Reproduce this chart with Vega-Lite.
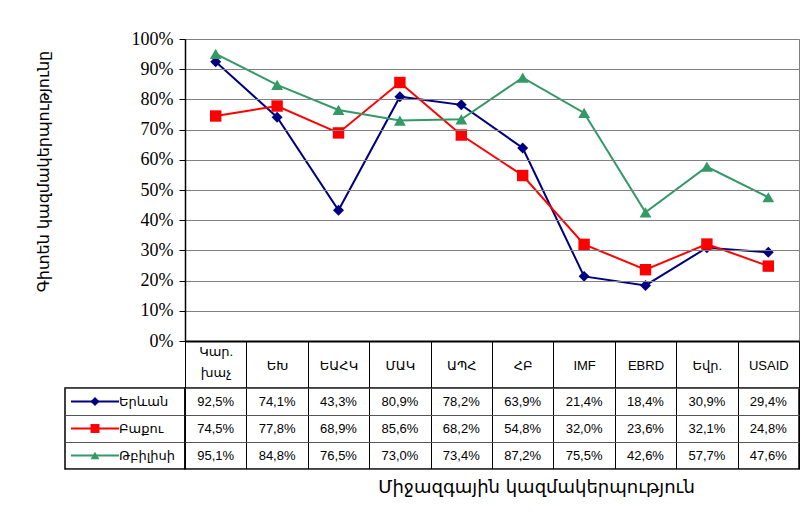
{
  "$schema": "https://vega.github.io/schema/vega-lite/v6.json",
  "background": "white",
  "padding": {"left": 34, "top": 29, "right": 6, "bottom": 10},
  "columns": 2,
  "spacing": {"row": 47, "column": 0},
  "bounds": "flush",
  "datasets": {
    "d": [
      {"cat": "Կար. խաչ", "series": "Երևան", "value": 0.925},
      {"cat": "ԵԽ", "series": "Երևան", "value": 0.741},
      {"cat": "ԵԱՀԿ", "series": "Երևան", "value": 0.433},
      {"cat": "ՄԱԿ", "series": "Երևան", "value": 0.809},
      {"cat": "ԱՊՀ", "series": "Երևան", "value": 0.782},
      {"cat": "ՀԲ", "series": "Երևան", "value": 0.639},
      {"cat": "IMF", "series": "Երևան", "value": 0.214},
      {"cat": "EBRD", "series": "Երևան", "value": 0.184},
      {"cat": "Եվր.", "series": "Երևան", "value": 0.309},
      {"cat": "USAID", "series": "Երևան", "value": 0.294},
      {"cat": "Կար. խաչ", "series": "Բաքու", "value": 0.745},
      {"cat": "ԵԽ", "series": "Բաքու", "value": 0.778},
      {"cat": "ԵԱՀԿ", "series": "Բաքու", "value": 0.689},
      {"cat": "ՄԱԿ", "series": "Բաքու", "value": 0.856},
      {"cat": "ԱՊՀ", "series": "Բաքու", "value": 0.682},
      {"cat": "ՀԲ", "series": "Բաքու", "value": 0.548},
      {"cat": "IMF", "series": "Բաքու", "value": 0.32},
      {"cat": "EBRD", "series": "Բաքու", "value": 0.236},
      {"cat": "Եվր.", "series": "Բաքու", "value": 0.321},
      {"cat": "USAID", "series": "Բաքու", "value": 0.248},
      {"cat": "Կար. խաչ", "series": "Թբիլիսի", "value": 0.951},
      {"cat": "ԵԽ", "series": "Թբիլիսի", "value": 0.848},
      {"cat": "ԵԱՀԿ", "series": "Թբիլիսի", "value": 0.765},
      {"cat": "ՄԱԿ", "series": "Թբիլիսի", "value": 0.73},
      {"cat": "ԱՊՀ", "series": "Թբիլիսի", "value": 0.734},
      {"cat": "ՀԲ", "series": "Թբիլիսի", "value": 0.872},
      {"cat": "IMF", "series": "Թբիլիսի", "value": 0.755},
      {"cat": "EBRD", "series": "Թբիլիսի", "value": 0.426},
      {"cat": "Եվր.", "series": "Թբիլիսի", "value": 0.577},
      {"cat": "USAID", "series": "Թբիլիսի", "value": 0.476}
    ]
  },
  "concat": [
    {
      "width": 120,
      "height": 302,
      "data": {"values": []},
      "mark": "point",
      "encoding": {},
      "view": {"stroke": null}
    },
    {
      "width": 614,
      "height": 302,
      "data": {"name": "d"},
      "view": {"stroke": "#808080", "strokeWidth": 1},
      "encoding": {
        "x": {
          "field": "cat",
          "type": "nominal",
          "scale": {"domain": ["Կար. խաչ", "ԵԽ", "ԵԱՀԿ", "ՄԱԿ", "ԱՊՀ", "ՀԲ", "IMF", "EBRD", "Եվր.", "USAID"], "paddingInner": 0, "paddingOuter": 0},
          "axis": {
            "title": null,
            "domainColor": "black",
            "domainWidth": 2,
            "tickBand": "extent",
            "tickSize": 47,
            "tickColor": "black",
            "tickWidth": 1,
            "labelFont": "Liberation Sans, DejaVu Sans",
            "labelFontSize": 13,
            "labelColor": "black",
            "labelAngle": 0,
            "labelBaseline": "middle",
            "labelPadding": {"condition": {"test": "datum.value == 'Կար. խաչ'", "value": -37}, "value": -23},
            "labelLineHeight": 21,
            "labelExpr": "datum.value == 'Կար. խաչ' ? ['Կար.', 'խաչ'] : datum.label",
            "labelOverlap": false,
            "labelBound": false,
            "labelFlush": false,
            "zindex": 1
          }
        },
        "y": {
          "field": "value",
          "type": "quantitative",
          "scale": {"domain": [0, 1], "nice": false},
          "axis": {
            "values": [0, 0.1, 0.2, 0.3, 0.4, 0.5, 0.6, 0.7, 0.8, 0.9, 1],
            "format": ".0%",
            "labelFont": "Liberation Serif",
            "labelFontSize": 18,
            "labelColor": "black",
            "labelPadding": 6,
            "tickSize": 6,
            "tickColor": "black",
            "domainColor": "black",
            "domainWidth": 1.5,
            "grid": true,
            "gridColor": "#808080",
            "gridWidth": 1,
            "gridOpacity": 1,
            "title": "Գիտեն կազմակերպությունը",
            "titleFont": "DejaVu Sans",
            "titleFontSize": 16,
            "titleFontWeight": "normal",
            "titleColor": "black",
            "titleX": -142,
            "titleY": 132,
            "titleBaseline": "middle",
            "titleAlign": "center",
            "zindex": 1
          }
        },
        "color": {
          "field": "series",
          "type": "nominal",
          "scale": {"domain": ["Երևան", "Բաքու", "Թբիլիսի"], "range": ["#000080", "#FF0000", "#339966"]},
          "legend": null
        }
      },
      "layer": [
        {"mark": {"type": "line", "strokeWidth": 2}},
        {
          "mark": {"type": "point", "filled": true, "opacity": 1},
          "encoding": {
            "shape": {
              "field": "series",
              "type": "nominal",
              "scale": {"domain": ["Երևան", "Բաքու", "Թբիլիսի"], "range": ["diamond", "square", "triangle-up"]},
              "legend": null
            },
            "size": {
              "field": "series",
              "type": "nominal",
              "scale": {"domain": ["Երևան", "Բաքու", "Թբիլիսի"], "range": [120, 140, 150]},
              "legend": null
            }
          }
        }
      ]
    },
    {
      "width": 120,
      "height": 81,
      "data": {"name": "d"},
      "transform": [{"filter": "datum.cat == 'USAID'"}],
      "view": {"stroke": "black", "strokeWidth": 1.5},
      "encoding": {
        "y": {
          "field": "series",
          "type": "nominal",
          "scale": {"domain": ["Երևան", "Բաքու", "Թբիլիսի"], "paddingInner": 0, "paddingOuter": 0},
          "axis": {"labels": false, "ticks": false, "domain": false, "grid": true, "tickBand": "extent", "gridColor": "#555555", "gridOpacity": 1, "title": null}
        }
      },
      "layer": [
        {
          "mark": {"type": "tick", "orient": "horizontal", "size": 48, "thickness": 2, "opacity": 1},
          "encoding": {
            "x": {"datum": "sym", "type": "nominal", "scale": {"domain": ["sym", "lab"], "paddingInner": 0, "paddingOuter": 0}, "axis": null},
            "color": {
              "field": "series",
              "type": "nominal",
              "scale": {"domain": ["Երևան", "Բաքու", "Թբիլիսի"], "range": ["#000080", "#FF0000", "#339966"]},
              "legend": null
            }
          }
        },
        {
          "mark": {"type": "point", "filled": true, "opacity": 1},
          "encoding": {
            "x": {"datum": "sym", "type": "nominal", "axis": null},
            "color": {
              "field": "series",
              "type": "nominal",
              "scale": {"domain": ["Երևան", "Բաքու", "Թբիլիսի"], "range": ["#000080", "#FF0000", "#339966"]},
              "legend": null
            },
            "shape": {
              "field": "series",
              "type": "nominal",
              "scale": {"domain": ["Երևան", "Բաքու", "Թբիլիսի"], "range": ["diamond", "square", "triangle-up"]},
              "legend": null
            },
            "size": {"value": 80}
          }
        },
        {
          "mark": {"type": "text", "align": "left", "dx": -6, "font": "Liberation Sans, DejaVu Sans", "fontSize": 13, "color": "black"},
          "encoding": {
            "x": {"datum": "lab", "type": "nominal", "bandPosition": 0, "axis": null},
            "text": {"field": "series", "type": "nominal"}
          }
        }
      ]
    },
    {
      "width": 614,
      "height": 81,
      "data": {"name": "d"},
      "view": {"stroke": "black", "strokeWidth": 1.5},
      "mark": {"type": "text", "font": "Liberation Sans, DejaVu Sans", "fontSize": 13, "color": "black"},
      "encoding": {
        "x": {
          "field": "cat",
          "type": "nominal",
          "scale": {"domain": ["Կար. խաչ", "ԵԽ", "ԵԱՀԿ", "ՄԱԿ", "ԱՊՀ", "ՀԲ", "IMF", "EBRD", "Եվր.", "USAID"], "paddingInner": 0, "paddingOuter": 0},
          "axis": {
            "labels": false,
            "ticks": false,
            "domain": false,
            "grid": true,
            "tickBand": "extent",
            "gridColor": "black",
            "gridOpacity": 1,
            "title": "Միջազգային կազմակերպություն",
            "titleFont": "DejaVu Sans",
            "titleFontSize": 18,
            "titleFontWeight": "normal",
            "titleColor": "black",
            "titleX": 351,
            "titleY": 23,
            "titleBaseline": "alphabetic",
            "titleAlign": "center"
          }
        },
        "y": {
          "field": "series",
          "type": "nominal",
          "scale": {"domain": ["Երևան", "Բաքու", "Թբիլիսի"], "paddingInner": 0, "paddingOuter": 0},
          "axis": {"labels": false, "ticks": false, "domain": false, "grid": true, "tickBand": "extent", "gridColor": "#555555", "gridOpacity": 1, "title": null}
        },
        "text": {"field": "value", "type": "quantitative", "format": ".1%"}
      }
    }
  ],
  "config": {
    "view": {"stroke": null},
    "locale": {"number": {"decimal": ",", "thousands": ".", "grouping": [3], "currency": ["", ""]}}
  }
}
